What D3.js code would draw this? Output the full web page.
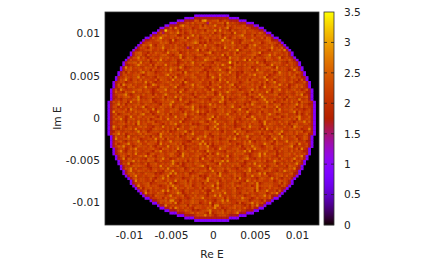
<!DOCTYPE html>
<html><head><meta charset="utf-8">
<script src="https://cdnjs.cloudflare.com/ajax/libs/d3/7.8.5/d3.min.js"></script>
<style>html,body{margin:0;background:#fff}svg{display:block}text{font-family:"DejaVu Sans";font-size:10.6px;fill:#222}</style>
</head><body><svg id="c" width="436" height="262"></svg>
<script>
const xTicks=[-0.01,-0.005,0,0.005,0.01];
const xLabels=["-0.01","-0.005","0","0.005","0.01"];
const yTicks=[-0.01,-0.005,0,0.005,0.01];
const yLabels=["-0.01","-0.005","0","0.005","0.01"];
const cbTicks=[0,0.5,1,1.5,2,2.5,3,3.5];
const cbLabels=["0","0.5","1","1.5","2","2.5","3","3.5"];
const xTitle="Re E", yTitle="Im E";
// density level for each digit used in densityRows
const levels=[1.4,1.55,1.75,2.08,2.27,2.45,2.78,3.0,3.2];
// values along the disc rim, outermost first
const rimLevels=[0.95,1.7];
// half-width of the disc (in cells) for the upper half, top row first
const halfWidths=[7,11,14,17,19,21,22,24,25,27,28,29,30,31,32,33,33,34,35,36,36,37,37,38,38,39,39,40,40,40,41,41,41,41,41,42,42,42,42,42,42,42];
const densityRows=[
"34453325546134423345535246433752344532254435613334546243354423553344625335424345336254",
"45233544354463342534443562335442734433525443354443265344352344543624343354451334453524",
"33542446331543345452334644325334453354267334452343544533246353443325443534543327344435",
"52344335426335345433524433644532343534443153344526343345325443344533463425334544323544",
"44325536344423345335544234334256443433525344633425434334452335443452334635443325344453",
"33454243345373443524433544526334344233545434335346234444353233544634253344535433244336",
"43536344225443343545233484433524345353342544636343253344534433235445343363452334454233",
"25344433565234343545344133544634235343454435234354426334533443544253346334524443533445",
"44335254343463352443433553445224334635344353445234334456333524434544332534446353334254",
"34543346235344453325347433443545263344235434435363245344533443352544334453624335344352",
"53344425343553644233455343262344533454343524333745443323544634334552334443534263345433",
"34253544334436253443335454233443344565232433545344363325443344523454433834253344543353",
"43445335442343354463244533435334254433536344323354454343325464334435324345336443523344",
"35334453624335443254344633435443312534445335434264353344235443533446343524534433455263",
"44523344534362334453343524455334343346253244534333544723443543344325345363344344235453",
"33464253344345533243544336344523353444334562343345335244433454623343544334235346344435",
"54334435362344532534434553324463344335542344343625335443344553234463533434254334454326",
"33544235433446353244335445343362354423344534534332644533443524434553346234345533442544",
"44253463344335443524536343344235445334336544323443534534626344332544335443534233464533",
"35434335244553634423354433445233534634454332544334835243344536342334545332443635344323",
"43344553423346443352544363433245344533524434353643325443534433454236344335343554423344",
"34533244635344335443523443545364233444353324453344635333445234344553263443353444532345",
"45342336445334534425334353644234335444532343546332454433443526344335453443236345344335",
"33454344253343563544233443534452633445335243344543634232544334553344236443533545342445",
"43236354433445323544343356344233544533444254336345344234335463443523345443535234434353",
"34445233543446353343254443526334434553344236435433445253344343546233543443355342344462",
"53343544632443534433525443363445233444353344326353444334352544334635234453343425536344",
"24535344233454436353233445434352643344533425345336344423454433535244633443453233544346",
"44333526445343344236534433544532344635433424453343562334443534425334436435233544343453",
"35443443254533446343325544346233443534553244336344534253344435236344553343244535334434",
"43354264333445534432354463443345235434435326443343554423344635333452446334345342354433",
"34435332544634434532335443445263344353433544235346433445335244343632544335433544423345",
"54333445632344353442533464334435443253343545236334434453325443643344552334433546234444",
"33542434553346233445343524436353344423545333444625343344533245364433435342544334453326",
"44353324433546343452334535443263343544343325544634233445435332446344533425344363343544",
"25443534426335344453233444563343542334453434336524435344332554344635233444353425443363",
"43334635243445335434432544633445323544343463533424453344253643344533545234344635332444",
"34544253344353462344335443524433554634232344535443463325443344532544363343445235343344",
"53434433526443345336244533445423344635343353244534434463325443354433526344453433234556",
"34263445334354434523364433544342533446353243344534532444363343524433545333446253344435",
"44335234453443563342344535243344634534232544335446334353442334533464423445334252353434",
"35443544236335434445325344336344523354433446253343544334523643443533445234344563335342",
"43335463244534343523445336344435233544343562443334453324354463343544233444535263344334",
"34543344253436343545233443544362334343553244634433452533443544236334435345332444635343",
"54233445343526344335443243546334435232344534463353442334435344326354433534244533443635",
"33464353244334545332443634344235334553443244633454342334536444323544343353426544334345",
"44353243445363343324544334352644335433443245363343443552344334252634354433445342336445",
"34424533443346354234443535233444632534335443443253346354423344534332544633443545234334",
"53344635234434535443326443534435244633335424453443342635344533424354346234443533452344",
"33545344263343453425336344443523354434546332443443535234463344353325443634345233544433",
"44326334453544233443634525334443345236434353442335446343352443345233643544334523544344",
"35443453243446335344525334634443322544363343453445233443536324344345253346344533424454",
"43354234463344533544326343445352344334636252443344534233545434336442354433454263344533",
"34433546334235444353244336344535233443544632334454334352443644323545343344562343344535",
"52443344235463343445332544343635244333544534236443344533254364433445233544343526344433",
"33534463244354334432546334345234434535332644343325443544636233444533425344353443263344",
"44235344354363343245334434553326443344534252364434335445332344636344523344535343426335",
"35343445324334546353244433544236343445332544343536234433452344635443325344433546243354",
"43544336254344332545344634233544435344263353443244334534563324434353442543346334445233",
"34453243344635343544235333464443524345334432544636334345233444535233644334352443343554",
"53334454362344335244533434463252344354433544326343444533245363443344523534434635233444",
"34526344333545443234436343544532344334563243445334353442343344635234453342544336344533",
"44343235446353344324434536333445234544334263344535433244346334452354334433546243343545",
"35544334246335443434533254463344335243445336344423544333546342344453324364433544343524",
"43343563244534335444232344636343542334543344526333445343254344636233454433452344353464",
"34434252354463343445334536233443443544232353446344335443243634534423344535336244334354",
"53344633424453443353244635334442334535432644433534435263344332454346353243443344553233",
"33453444235363443342544335436344525334344633452443344533264353443344235443363354434234",
"44235343546334344523344453632344535334425344363343453324434536234444335253344463354423",
"35443344325446334534432335464433545234433446252344353544334236344454332443635334344525",
"43334544632343524453443335246344354433525344363343445233444536234353443254433464335344",
"34462344533445335243434636344532443344353226443543345334434526344633425344353443632344",
"54333445254334436343354423344652343544335243445363344324453433444235463343544332443536",
"33544236344434535332544434633445234353443244636334345344233543446352344334545236344334",
"44335443524344636343344253445334323544463343344525334436443235344353444632344335443254",
"35243344635343453424334453663324434544335343244636333445442344325343564344335423344534",
"43354534244633445335244344536234334544234362343544433252344635343344523544463343325444",
"34443326344535443234354463343344525334434352663344335443242536344334435523443634433545",
"53235444343563324433445334526434343254433544634233445343532446343345334425436344353233",
"34434535234446333445234354634433544232344563343524434453336244344535332644343445234353",
"44533243344635444323544336344524334535443262344534334634523344435543263443354433544334",
"33445364234345433524436344335443254334446353234443544333562344534423635443343344552334",
"45234434535263443354433245346344333544236344453343524463344335443254334635444323344536",
"34543352446334435344236534334443525334463544323344536343354423444635233445343542334463"
];
const svg=d3.select("#c");
const L=105,R=319,T=12,B=225,cbL=324,cbR=334,cbMax=3.5;
const pal=t=>{const c=v=>Math.round(255*Math.max(0,Math.min(1,v)));return d3.rgb(c(Math.sqrt(t)),c(t*t*t),c(Math.sin(2*Math.PI*t)))};
const color=d3.scaleSequential([0,cbMax],pal);
const x=d3.scaleLinear([-0.012857,0.012619],[L,R]);
const y=d3.scaleLinear([-0.01266,0.01254],[B,T]);
const nRows=halfWidths.length*2;
const col=d3.scaleBand(d3.range(-43,43),[L+0,R-1]);
const row=d3.scaleBand(d3.range(nRows+2),[T,B-1]);
const hw=i=>{const k=i<halfWidths.length?i:nRows-1-i;return k>=0&&k<halfWidths.length?halfWidths[k]:0};
const inside=(i,c)=>i>=0&&i<nRows&&c>=-hw(i)&&c<hw(i);
const cells=[];
for(let i=0;i<nRows;i++){for(let c=-hw(i);c<hw(i);c++){
  let depth=2;
  for(let d=1;d>=0;d--){if(!inside(i-d-1,c)||!inside(i+d+1,c)||!inside(i,c-d-1)||!inside(i,c+d+1))depth=d;}
  const ch=(densityRows[i]||"")[c+43]||"4";
  const v=depth<2?rimLevels[depth]:levels[+ch];
  cells.push({i,c,v});
}}
const defs=svg.append("defs");
defs.append("clipPath").attr("id","pc").append("rect").attr("x",L).attr("y",T).attr("width",R-L).attr("height",B-T);
defs.append("filter").attr("id","soft").append("feGaussianBlur").attr("stdDeviation",0.4);
const plot=svg.append("g").attr("clip-path","url(#pc)");
plot.append("rect").attr("x",L).attr("y",T).attr("width",R-L).attr("height",B-T).attr("fill","#000");
plot.append("g").attr("filter","url(#soft)").selectAll("rect").data(cells).join("rect")
 .attr("x",d=>col(d.c)).attr("y",d=>row(d.i+1)).attr("width",col.bandwidth()+0.4).attr("height",row.bandwidth()+0.4)
 .attr("fill",d=>color(d.v));
svg.append("rect").attr("x",L).attr("y",T).attr("width",R-L).attr("height",B-T).attr("fill","none").attr("stroke","#333").attr("stroke-width",0.8);
const xa=svg.append("g").attr("transform",`translate(0,${B})`).call(d3.axisBottom(x).tickValues(xTicks).tickSize(0).tickPadding(6).tickFormat((d,i)=>xLabels[i]));
const ya=svg.append("g").attr("transform",`translate(${L},0)`).call(d3.axisLeft(y).tickValues(yTicks).tickSize(0).tickPadding(5).tickFormat((d,i)=>yLabels[i]));
[xa,ya].forEach(a=>{a.select(".domain").remove();a.selectAll("text").style("font-family",'"DejaVu Sans"').style("font-size","10.6px").style("fill","#222")});
svg.append("text").attr("x",212).attr("y",258).attr("text-anchor","middle").text(xTitle);
svg.append("text").attr("transform","translate(61,118) rotate(-90)").attr("text-anchor","middle").text(yTitle);
// colour bar
const cb=d3.scaleLinear([0,cbMax],[B,T]);
svg.append("g").selectAll("rect").data(d3.range(B-T)).join("rect").attr("x",cbL).attr("width",cbR-cbL).attr("y",d=>T+d).attr("height",1.2).attr("fill",d=>color(cb.invert(T+d+0.5)));
svg.append("rect").attr("x",cbL).attr("y",T).attr("width",cbR-cbL).attr("height",B-T).attr("fill","none").attr("stroke","#333").attr("stroke-width",0.8);
const ca=svg.append("g").attr("transform",`translate(${cbR},0)`).call(d3.axisRight(cb).tickValues(cbTicks).tickSize(0).tickPadding(10).tickFormat((d,i)=>cbLabels[i]));
ca.select(".domain").remove();
ca.selectAll("text").style("font-family",'"DejaVu Sans"').style("font-size","10.6px").style("fill","#222");
svg.append("g").selectAll("path").data(cbTicks.slice(1,-1)).join("path").attr("d",d=>`M${cbL},${cb(d)}h3M${cbR},${cb(d)}h-3`).attr("stroke","#222").attr("stroke-width",0.8).attr("fill","none");
</script></body></html>
